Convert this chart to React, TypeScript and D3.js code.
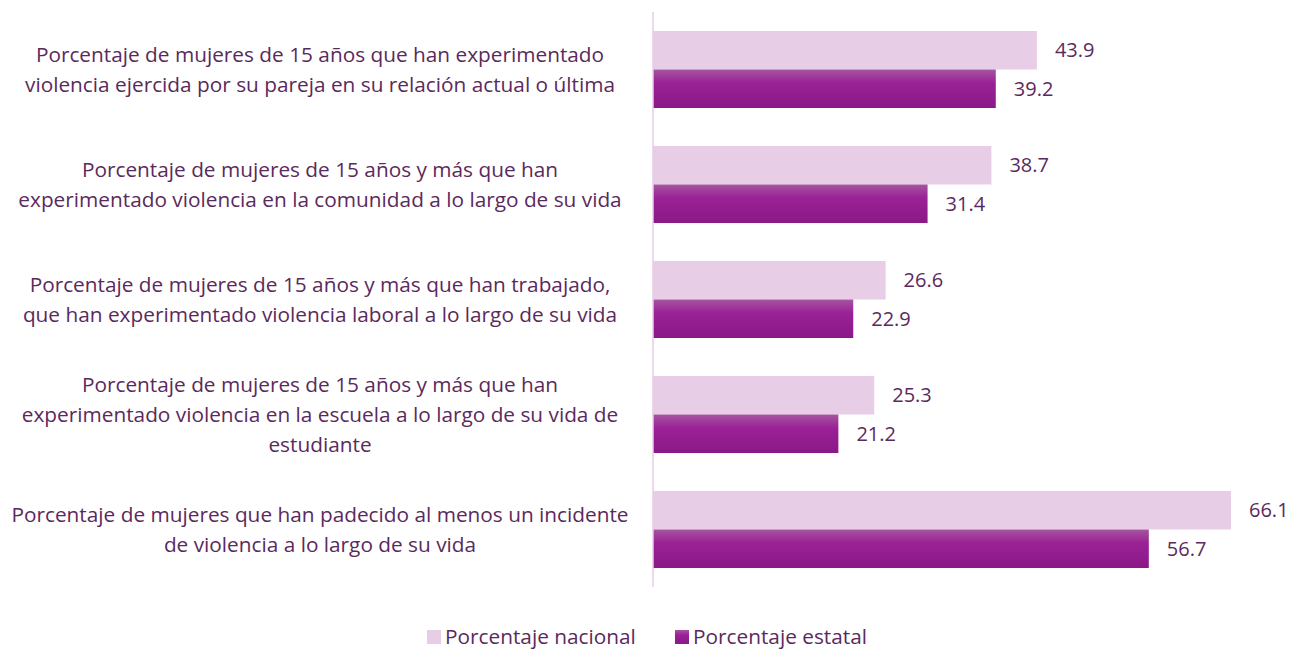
import React from "react";
import * as d3 from "d3";

const categories: string[][] = [
  ["Porcentaje de mujeres de 15 años que han experimentado", "violencia ejercida por su pareja en su relación actual o última"],
  ["Porcentaje de mujeres de 15 años y más que han", "experimentado violencia en la comunidad a lo largo de su vida"],
  ["Porcentaje de mujeres de 15 años y más que han trabajado,", "que han experimentado violencia laboral a lo largo de su vida"],
  ["Porcentaje de mujeres de 15 años y más que han", "experimentado violencia en la escuela a lo largo de su vida de", "estudiante"],
  ["Porcentaje de mujeres que han padecido al menos un incidente", "de violencia a lo largo de su vida"],
];
const nacional: number[] = [43.9, 38.7, 26.6, 25.3, 66.1];
const estatal: number[] = [39.2, 31.4, 22.9, 21.2, 56.7];
const seriesNames: string[] = ["Porcentaje nacional", "Porcentaje estatal"];

const W = 1289;
const H = 650;
const TEXT = "#5B2A5C";
const LIGHT = "#E8CDE6";
const FONT = "'Open Sans', sans-serif";

export default function App() {
  const idx = categories.map((_, i) => String(i));
  const y = d3.scaleBand<string>().domain(idx).range([12, 587]).paddingInner(0.33).paddingOuter(0.165);
  const x = d3.scaleLinear().domain([0, 66.1]).range([653, 1231]);
  const bw = y.bandwidth() / 2;
  const fmt = d3.format(".1f");
  const lineH = 30;

  return (
    <svg width={W} height={H} style={{ position: "absolute", left: 0, top: 0, background: "#fff" }}>
      <defs>
        <linearGradient id="gEst" x1="0" y1="0" x2="0" y2="1">
          <stop offset="0%" stopColor="#A5559F" />
          <stop offset="35%" stopColor="#9A2196" />
          <stop offset="100%" stopColor="#8A1986" />
        </linearGradient>
      </defs>
      <g fontFamily={FONT} fill={TEXT}>
        {categories.map((lines, i) => {
          const y0 = y(String(i))!;
          const cy = y0 + y.bandwidth() / 2;
          const start = cy - ((lines.length - 1) * lineH) / 2;
          return (
            <g key={i}>
              <rect x={x(0)} y={y0} width={x(nacional[i]) - x(0)} height={bw} fill={LIGHT} />
              <rect x={x(0)} y={y0 + bw} width={x(estatal[i]) - x(0)} height={bw} fill="url(#gEst)" />
              <text x={x(nacional[i]) + 18} y={y0 + bw / 2} dy="0.35em" fontSize={20}>
                {fmt(nacional[i])}
              </text>
              <text x={x(estatal[i]) + 18} y={y0 + bw * 1.5} dy="0.35em" fontSize={20}>
                {fmt(estatal[i])}
              </text>
              {lines.map((ln, j) => (
                <text key={j} x={320} y={start + j * lineH} dy="0.35em" fontSize={20.8} textAnchor="middle">
                  {ln}
                </text>
              ))}
            </g>
          );
        })}
        <line x1={x(0)} x2={x(0)} y1={12} y2={587} stroke={LIGHT} strokeWidth={1.5} />
        <g fontSize={20.8}>
          <rect x={427} y={630} width={14} height={14} fill={LIGHT} />
          <text x={445} y={637} dy="0.35em">{seriesNames[0]}</text>
          <rect x={675} y={630} width={14} height={14} fill="url(#gEst)" />
          <text x={693} y={637} dy="0.35em">{seriesNames[1]}</text>
        </g>
      </g>
    </svg>
  );
}
